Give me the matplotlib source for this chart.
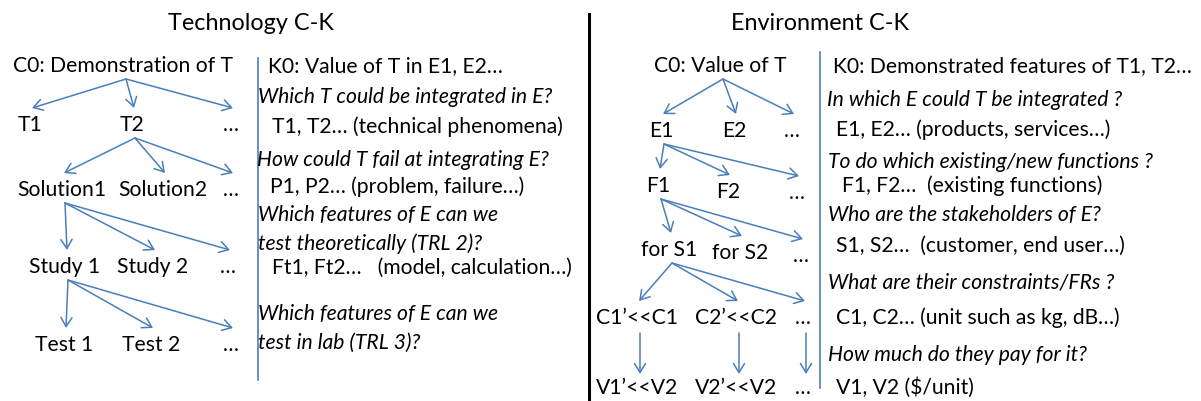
import matplotlib
matplotlib.use("Agg")
from matplotlib import pyplot as plt

plt.rcParams['font.family'] = ['Lato', 'DejaVu Sans']

# Titles
tech_title = "Technology C-K"
env_title = "Environment C-K"

# Concept trees: labels of each row
tech_rows = [
    ["C0: Demonstration of T"],
    ["T1", "T2", "…"],
    ["Solution1", "Solution2", "…"],
    ["Study 1", "Study 2", "…"],
    ["Test 1", "Test 2", "…"],
]
env_rows = [
    ["C0: Value of T"],
    ["E1", "E2", "…"],
    ["F1", "F2", "…"],
    ["for S1", "for S2", "…"],
    ["C1’<<C1", "C2’<<C2", "…"],
    ["V1’<<V2", "V2’<<V2", "…"],
]
# which node of each row has children (index in the row)
tech_parent = [0, 1, 0, 0]
env_parent = [0, 0, 0, 0, None]  # last level: one arrow per column

# Knowledge columns: (text, italic)
tech_knowledge = [
    ("K0: Value of T in E1, E2…", False),
    ("Which T could be integrated in E?", True),
    ("T1, T2… (technical phenomena)", False),
    ("How could T fail at integrating E?", True),
    ("P1, P2… (problem, failure…)", False),
    ("Which features of E can we", True),
    ("test theoretically (TRL 2)?", True),
    ("Ft1, Ft2…   (model, calculation…)", False),
    ("Which features of E can we", True),
    ("test in lab (TRL 3)?", True),
]
env_knowledge = [
    ("K0: Demonstrated features of T1, T2…", False),
    ("In which E could T be integrated ?", True),
    ("E1, E2… (products, services…)", False),
    ("To do which existing/new functions ?", True),
    ("F1, F2…  (existing functions)", False),
    ("Who are the stakeholders of E?", True),
    ("S1, S2…  (customer, end user…)", False),
    ("What are their constraints/FRs ?", True),
    ("C1, C2… (unit such as kg, dB…)", False),
    ("How much do they pay for it?", True),
    ("V1, V2 ($/unit)", False),
]

# ---- layout (pixel coordinates, y downwards) ----
tech_x = [[123], [30, 132, 231], [62, 163, 231], [65, 153, 228], [64, 151, 231]]
tech_y = [66, 125, 190, 267, 345]
env_x = [[720], [661, 734, 792], [658, 728, 797], [669, 740, 801], [637, 736, 803], [637, 736, 803]]
env_y = [66, 131, [186, 192, 193], [250, 253, 256], 318, 388]
tech_k_x = [268, 258, 272, 257, 270, 258, 258, 272, 258, 258]
tech_k_y = [66, 97, 127, 160, 187, 215, 244, 268, 314, 343]
env_k_x = [833, 827, 836, 828, 842, 828, 836, 828, 836, 828, 836]
env_k_y = [66, 100, 130, 162, 186, 215, 246, 282, 318, 355, 388]

blue = '#4A7EBB'
fs = 15.2

fig = plt.figure(figsize=(12.01, 4.01), dpi=100)
ax = fig.add_axes([0, 0, 1, 1])
ax.set_xlim(0, 1201)
ax.set_ylim(401, 0)
ax.axis('off')

ax.text(251, 24, tech_title, fontsize=16.8, ha='center', va='center')
ax.text(820, 24, env_title, fontsize=16.8, ha='center', va='center')

# black divider and blue separators
ax.plot([589, 589], [14, 401], color='black', lw=2.2)
ax.plot([258, 258], [58, 380], color=blue, lw=1.2)
ax.plot([820, 820], [52, 388], color=blue, lw=1.2)


def arrow(x0, y0, x1, y1):
    ax.annotate('', xy=(x1, y1), xytext=(x0, y0),
                arrowprops=dict(arrowstyle='->,head_length=0.65,head_width=0.4',
                                color=blue, lw=1.1, shrinkA=0, shrinkB=0))


def row_y(ys, i, j):
    v = ys[i]
    return v[j] if isinstance(v, list) else v


def draw_tree(rows, xs, ys, parents):
    for i, row in enumerate(rows):
        for j, lab in enumerate(row):
            ax.text(xs[i][j], row_y(ys, i, j), lab, fontsize=fs,
                    ha='center', va='center')
    for i, p in enumerate(parents):
        if p is None:
            # straight down arrows, one per column
            for j in range(len(rows[i + 1])):
                arrow(xs[i][j] + 3, row_y(ys, i, j) + 15,
                      xs[i + 1][j] + 3, row_y(ys, i + 1, j) - 14)
            continue
        px = xs[i][p] + 3
        py = row_y(ys, i, p) + 13
        for j in range(len(rows[i + 1])):
            arrow(px, py, xs[i + 1][j] + 2, row_y(ys, i + 1, j) - 17)


draw_tree(tech_rows, tech_x, tech_y, tech_parent)
draw_tree(env_rows, env_x, env_y, env_parent)

for (t, it), x, y in zip(tech_knowledge, tech_k_x, tech_k_y):
    ax.text(x, y, t, fontsize=fs, style='italic' if it else 'normal',
            ha='left', va='center')
for (t, it), x, y in zip(env_knowledge, env_k_x, env_k_y):
    ax.text(x, y, t, fontsize=fs, style='italic' if it else 'normal',
            ha='left', va='center')

fig.savefig('out.png', dpi=100)
